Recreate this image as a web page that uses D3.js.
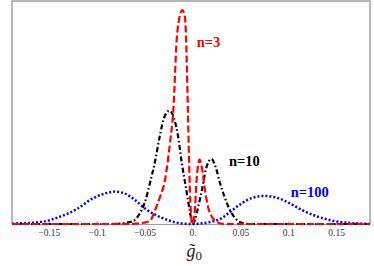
<!DOCTYPE html>
<html>
<head>
<meta charset="utf-8">
<script src="https://cdn.jsdelivr.net/npm/d3@7"></script>
<style>
  body { margin: 0; background: #fff; }
  svg { display: block; }
</style>
</head>
<body>
<svg id="chart" width="374" height="266"></svg>
<script>
// distributions of g0 for n = 3, 10, 100
const xDomain = [-0.1884, 0.1853];
const xTicks = [-0.15, -0.1, -0.05, 0, 0.05, 0.1, 0.15];
const xTickLabels = ["\u22120.15", "\u22120.1", "\u22120.05", "0.", "0.05", "0.1", "0.15"];

const seriesN3 = [
  [-0.1884, 0], [-0.0757, 0], [-0.0582, 0.002], [-0.0496, 0.007], [-0.0444, 0.014],
  [-0.039, 0.065], [-0.0339, 0.126], [-0.0287, 0.205], [-0.0235, 0.378], [-0.020, 0.53],
  [-0.0165, 0.858], [-0.0141, 0.951], [-0.0106, 0.998], [-0.0078, 0.961], [-0.0063, 0.81],
  [-0.0047, 0.51], [-0.0026, 0.145], [-0.001, 0.02], [0, 0], [0.002, 0.04],
  [0.0047, 0.23], [0.0073, 0.30], [0.0099, 0.26], [0.013, 0.16], [0.0162, 0.08],
  [0.0204, 0.033], [0.0256, 0.009], [0.034, 0], [0.1853, 0]
];

const seriesN10 = [
  [-0.1884, 0], [-0.0861, 0], [-0.0705, 0.005], [-0.0621, 0.014], [-0.0548, 0.051],
  [-0.0496, 0.103], [-0.0444, 0.191], [-0.0392, 0.289], [-0.0339, 0.415], [-0.0298, 0.494],
  [-0.0242, 0.528], [-0.0193, 0.494], [-0.0151, 0.41], [-0.011, 0.28], [-0.0068, 0.168],
  [-0.0026, 0.056], [0, 0], [0.0026, 0.019], [0.0057, 0.075], [0.0099, 0.159],
  [0.0141, 0.257], [0.0198, 0.303], [0.0245, 0.261], [0.0287, 0.191], [0.0339, 0.121],
  [0.0391, 0.065], [0.0444, 0.028], [0.0506, 0.007], [0.0595, 0], [0.1853, 0]
];

const seriesN100 = [
  [-0.1884, 0.001], [-0.1748, 0.004], [-0.156, 0.011], [-0.1383, 0.034], [-0.1206, 0.07],
  [-0.1039, 0.12], [-0.0913, 0.142], [-0.0809, 0.151], [-0.0705, 0.142], [-0.0601, 0.112],
  [-0.0496, 0.072], [-0.0392, 0.044], [-0.0287, 0.023], [-0.0172, 0.007], [-0.0078, 0.001],
  [0, 0], [0.0078, 0.002], [0.0183, 0.009], [0.0287, 0.023], [0.0392, 0.056],
  [0.0496, 0.091], [0.0621, 0.121], [0.0757, 0.131], [0.0892, 0.121], [0.1018, 0.096],
  [0.1143, 0.065], [0.131, 0.034], [0.1456, 0.016], [0.1592, 0.007], [0.1749, 0.002],
  [0.1853, 0]
];

const seriesNames = ["n=100", "n=10", "n=3"];

var svg = d3.select("#chart");

// frame / plot area
var frame = {left: 12, right: 370, top: 1, bottom: 224};

let x = d3.scaleLinear().domain(xDomain).range([frame.left, frame.right]);
let y = d3.scaleLinear().domain([0, 1.04]).range([frame.bottom, frame.top]);

// grey frame (left, top, right)
svg.append("path")
    .attr("d", "M" + frame.left + "," + frame.bottom + "V" + frame.top + "H" + frame.right + "V" + frame.bottom)
    .style("fill", "none")
    .style("stroke", "#a0a0a0")
    .style("stroke-width", 1.5);

// bottom axis
let xAxis = d3.axisBottom(x)
    .tickValues(xTicks)
    .tickFormat((d, i) => xTickLabels[i])
    .tickSizeInner(-3)
    .tickSizeOuter(0)
    .tickPadding(5);

let gx = svg.append("g")
    .attr("transform", "translate(0," + frame.bottom + ")")
    .call(xAxis);
gx.select(".domain").attr("stroke", "#a0a0a0");
gx.selectAll(".tick line").attr("stroke", "#a0a0a0");
gx.selectAll(".tick text")
    .style("font-family", "'Liberation Serif', serif")
    .style("font-size", "9.5px")
    .attr("fill", "#333");

// curves
let line = d3.line()
    .x(d => x(d[0]))
    .y(d => y(d[1]))
    .curve(d3.curveMonotoneX);

let styles = [
    {data: seriesN100, color: "#0000ff", dash: "2,2", width: 2.5},
    {data: seriesN10, color: "#000000", dash: "5,2.5,1.5,2.5", width: 2.2},
    {data: seriesN3, color: "#ff0000", dash: "7,3", width: 2.2}
];

svg.selectAll("path.curve")
    .data(styles)
    .enter()
    .append("path")
    .attr("class", "curve")
    .attr("d", d => line(d.data))
    .style("fill", "none")
    .style("stroke", d => d.color)
    .style("stroke-width", d => d.width)
    .style("stroke-dasharray", d => d.dash);

// series labels
let labels = [
    {text: seriesNames[2], color: "#ff0000", gx: 0.0045, gy: 0.825},
    {text: seriesNames[1], color: "#000000", gx: 0.038, gy: 0.27},
    {text: seriesNames[0], color: "#0000ff", gx: 0.1025, gy: 0.125}
];
svg.selectAll("text.serieslabel")
    .data(labels)
    .enter()
    .append("text")
    .attr("class", "serieslabel")
    .attr("x", d => x(d.gx))
    .attr("y", d => y(d.gy))
    .style("font-family", "'Liberation Serif', serif")
    .style("font-weight", "bold")
    .style("font-size", "14.5px")
    .attr("fill", d => d.color)
    .text(d => d.text);

// axis title: g tilde, subscript 0
let title = svg.append("text")
    .attr("x", x(0) - 6)
    .attr("y", 257)
    .style("font-family", "'Liberation Serif', serif")
    .style("font-size", "18px")
    .attr("fill", "#222");
title.append("tspan").style("font-style", "italic").text("g\u0303");
title.append("tspan").attr("dy", 3).style("font-size", "13px").text("0");
</script>
</body>
</html>
